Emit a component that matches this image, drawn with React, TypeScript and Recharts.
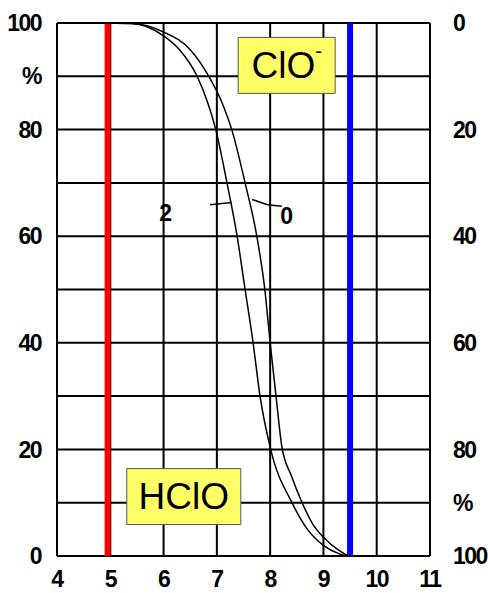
import {
  LineChart,
  Line,
  XAxis,
  YAxis,
  CartesianGrid,
  ReferenceLine,
  ReferenceArea,
  ReferenceDot,
} from "recharts";

// pH axis and percentage grid
const phTicks = [4, 5, 6, 7, 8, 9, 10, 11];
const pctGrid = [0, 10, 20, 30, 40, 50, 60, 70, 80, 90, 100];
const leftTicks = [0, 20, 40, 60, 80, 90, 100];
const rightTicks = [0, 10, 20, 40, 60, 80, 100];

// curve "2" (left one)
const curve2Ph = [4.7, 5.4, 6.0, 6.3, 6.63, 6.83, 6.98, 7.19, 7.38, 7.53, 7.68, 7.81, 8.01, 8.41, 8.7, 9.0, 9.3, 9.44];
const curve2Pct = [100, 99.9, 97.6, 95, 90, 85, 80, 70, 60, 50, 40, 30, 20, 10, 5, 2, 0.4, 0];

// curve "0" (right one)
const curve0Ph = [4.7, 5.4, 6.0, 6.5, 6.85, 7.1, 7.28, 7.53, 7.75, 7.9, 8.0, 8.11, 8.22, 8.4, 8.6, 8.8, 9.0, 9.3, 9.5, 9.68];
const curve0Pct = [100, 99.9, 98.3, 95, 90, 85, 80, 70, 60, 50, 40, 30, 20.5, 15, 10, 6, 3.5, 1, 0, 0];

const curve2 = curve2Ph.map((ph, i) => ({ ph, v: curve2Pct[i] }));
const curve0 = curve0Ph.map((ph, i) => ({ ph, v: curve0Pct[i] }));

const FONT = "'Liberation Sans', Arial, sans-serif";
const tickStyle = { fill: "#000", fontSize: 23, fontWeight: 700, fontFamily: FONT, letterSpacing: -1.5 };

function BoxLabel(props: { viewBox?: { x: number; y: number; width: number; height: number }; text: string; sup?: string }) {
  const { viewBox, text, sup } = props;
  if (!viewBox) return null;
  const cx = viewBox.x + viewBox.width / 2;
  const cy = viewBox.y + viewBox.height / 2;
  return (
    <text
      x={cx}
      y={cy}
      textAnchor="middle"
      dominantBaseline="central"
      fontFamily={FONT}
      fontSize={37}
      fill="#000"
    >
      {text}
      {sup && (
        <tspan fontSize={20} dy={-14}>
          {sup}
        </tspan>
      )}
    </text>
  );
}

export default function App() {
  return (
    <div style={{ position: "absolute", left: 0, top: 0, width: 488, height: 593, background: "#fff" }}>
      <LineChart width={488} height={593} margin={{ top: 23, right: 0, bottom: 0, left: 0 }}>
        <CartesianGrid
          yAxisId="left"
          stroke="#000"
          strokeWidth={2}
          horizontalValues={pctGrid}
          verticalValues={phTicks}
        />
        <XAxis
          type="number"
          dataKey="ph"
          domain={[4, 11]}
          ticks={phTicks}
          height={37}
          axisLine={false}
          tickLine={false}
          tickMargin={9}
          tick={tickStyle}
          allowDataOverflow
        />
        <YAxis
          yAxisId="left"
          domain={[0, 100]}
          ticks={leftTicks}
          width={57}
          axisLine={false}
          tickLine={false}
          tickMargin={10}
          tick={tickStyle}
          tickFormatter={(v: number) => (v === 90 ? "%" : String(v))}
        />
        <YAxis
          yAxisId="right"
          orientation="right"
          domain={[0, 100]}
          ticks={rightTicks}
          width={58}
          axisLine={false}
          tickLine={false}
          tickMargin={17}
          tick={tickStyle}
          tickFormatter={(v: number) => (v === 10 ? "%" : String(100 - v))}
        />

        <ReferenceArea
          yAxisId="left"
          x1={7.4}
          x2={9.22}
          y1={86.8}
          y2={97.3}
          fill="#ffff66"
          fillOpacity={1}
          stroke="#555"
          strokeWidth={1}
          label={<BoxLabel text="ClO" sup="-" />}
        />
        <ReferenceArea
          yAxisId="left"
          x1={5.31}
          x2={7.45}
          y1={5.9}
          y2={16.4}
          fill="#ffff66"
          fillOpacity={1}
          stroke="#555"
          strokeWidth={1}
          label={<BoxLabel text="HClO" />}
        />

        <ReferenceLine yAxisId="left" x={4.95} stroke="#ff0000" strokeWidth={6} />
        <ReferenceLine yAxisId="left" x={9.5} stroke="#0000ff" strokeWidth={6} />

        <Line
          yAxisId="left"
          data={curve2}
          dataKey="v"
          type="monotone"
          stroke="#000"
          strokeWidth={1.5}
          dot={false}
          isAnimationActive={false}
        />
        <Line
          yAxisId="left"
          data={curve0}
          dataKey="v"
          type="monotone"
          stroke="#000"
          strokeWidth={1.5}
          dot={false}
          isAnimationActive={false}
        />
        {/* invisible copy so the right (ClO-) axis gets drawn */}
        <Line
          yAxisId="right"
          data={curve0}
          dataKey="v"
          stroke="none"
          dot={false}
          activeDot={false}
          isAnimationActive={false}
        />

        {/* leader lines to the curve labels */}
        <ReferenceLine
          yAxisId="left"
          segment={[{ x: 6.87, y: 65.9 }, { x: 7.28, y: 66.3 }]}
          stroke="#000"
          strokeWidth={1.5}
        />
        <ReferenceLine
          yAxisId="left"
          segment={[{ x: 7.66, y: 66.9 }, { x: 7.95, y: 65.9 }]}
          stroke="#000"
          strokeWidth={1.5}
        />
        <ReferenceLine
          yAxisId="left"
          segment={[{ x: 7.95, y: 65.9 }, { x: 8.22, y: 65.6 }]}
          stroke="#000"
          strokeWidth={1.5}
        />
        <ReferenceDot
          yAxisId="left"
          x={6.04}
          y={64.3}
          r={0}
          fill="none"
          stroke="none"
          label={{ value: "2", position: "center", fill: "#000", fontSize: 23, fontWeight: 700, fontFamily: FONT }}
        />
        <ReferenceDot
          yAxisId="left"
          x={8.31}
          y={63.9}
          r={0}
          fill="none"
          stroke="none"
          label={{ value: "0", position: "center", fill: "#000", fontSize: 23, fontWeight: 700, fontFamily: FONT }}
        />
      </LineChart>
    </div>
  );
}
